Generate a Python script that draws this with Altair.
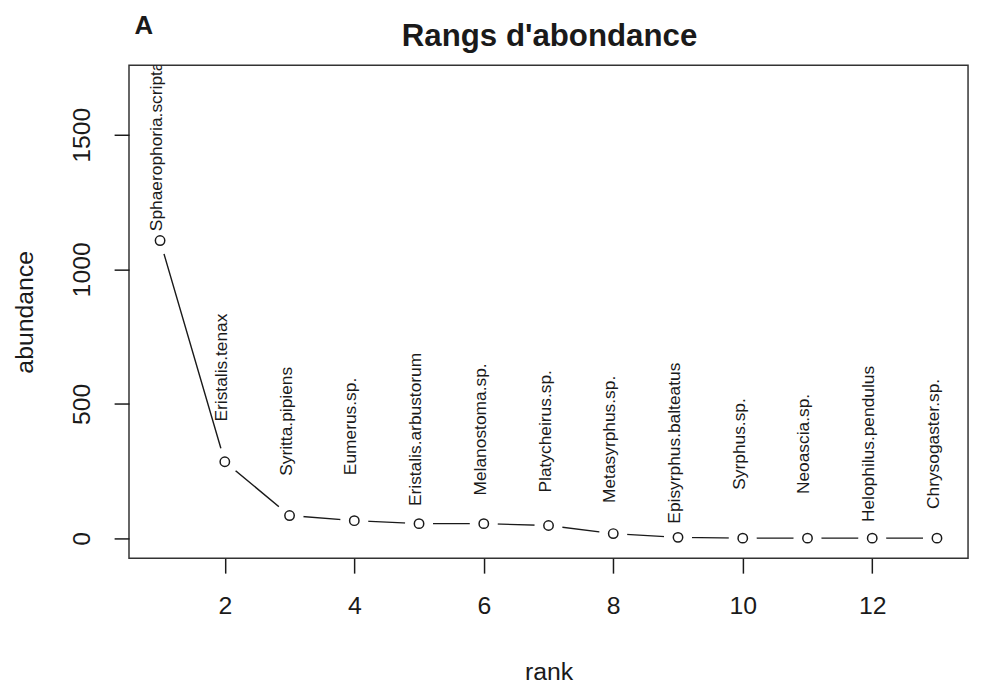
import altair as alt
import pandas as pd

species = ["Sphaerophoria.scripta", "Eristalis.tenax", "Syritta.pipiens", "Eumerus.sp.",
           "Eristalis.arbustorum", "Melanostoma.sp.", "Platycheirus.sp.", "Metasyrphus.sp.",
           "Episyrphus.balteatus", "Syrphus.sp.", "Neoascia.sp.", "Helophilus.pendulus",
           "Chrysogaster.sp."]
ranks = list(range(1, 14))
abundance = [1107, 285, 85, 66, 55, 55, 48, 18, 4, 1, 1, 1, 1]
x_ticks = [2, 4, 6, 8, 10, 12]
y_ticks = [0, 500, 1000, 1500]

df = pd.DataFrame({"rank": ranks, "abundance": abundance, "species": species})

FONT = "Liberation Sans"
INK = "#1a1a1a"

xs = alt.Scale(domain=[0.52, 13.48], nice=False, zero=False)
ys = alt.Scale(domain=[-73.7, 1758], nice=False, zero=False)

x_axis = alt.Axis(values=x_ticks, format="d", title="rank", domain=False, grid=False,
                  tickSize=15, tickWidth=1.5, tickColor=INK,
                  labelFont=FONT, labelFontSize=25, labelColor=INK, labelPadding=21,
                  labelBaseline="top", labelAlign="center", labelFlush=False,
                  titleFont=FONT, titleFontSize=25, titleFontWeight="normal", titleColor=INK,
                  titleX=423, titleY=122, titleBaseline="alphabetic", titleAlign="center")
y_axis = alt.Axis(values=y_ticks, format="d", title="abundance", domain=False, grid=False,
                  tickSize=15, tickWidth=1.5, tickColor=INK,
                  labelFont=FONT, labelFontSize=25, labelColor=INK, labelPadding=20,
                  labelAngle=-90, labelAlign="center", labelBaseline="bottom", labelFlush=False,
                  titleFont=FONT, titleFontSize=25, titleFontWeight="normal", titleColor=INK,
                  titleAngle=270, titleX=-105.5, titleY=248.5, titleBaseline="middle",
                  titleAlign="center")

base = alt.Chart(df)

line = base.mark_line(color=INK, strokeWidth=1.4).encode(
    x=alt.X("rank:Q", scale=xs, axis=x_axis),
    y=alt.Y("abundance:Q", scale=ys, axis=y_axis),
)
mask = base.mark_point(shape="circle", filled=True, color="white", opacity=1, size=800).encode(
    x=alt.X("rank:Q", scale=xs), y=alt.Y("abundance:Q", scale=ys)
)
points = base.mark_point(shape="circle", filled=False, color=INK, strokeWidth=1.5,
                         size=90, opacity=1).encode(
    x=alt.X("rank:Q", scale=xs), y=alt.Y("abundance:Q", scale=ys)
)
labels = base.transform_calculate(ly="datum.abundance + 350").mark_text(
    font=FONT, fontSize=17.5, color=INK, angle=270, align="center", baseline="middle",
    dy=-3, clip=True
).encode(
    x=alt.X("rank:Q", scale=xs), y=alt.Y("ly:Q", scale=ys), text="species:N"
)

title = alt.Chart(pd.DataFrame({"t": ["Rangs d'abondance"]})).mark_text(
    font=FONT, fontSize=31.5, fontWeight="bold", color=INK, align="center", baseline="alphabetic"
).encode(x=alt.value(424), y=alt.value(-20), text="t:N")

panel = alt.Chart(pd.DataFrame({"t": ["A"]})).mark_text(
    font=FONT, fontSize=26, fontWeight="bold", color=INK, align="center", baseline="alphabetic"
).encode(x=alt.value(15), y=alt.value(-32), text="t:N")

chart = alt.layer(line, mask, points, labels, title, panel).properties(
    width=846, height=497,
    autosize=alt.AutoSizeParams(type="none"),
    padding={"left": 122, "top": 55, "right": 5, "bottom": 129},
    background="white",
).configure_view(stroke="#333333", strokeWidth=1.5)

chart.save("out.html", embed_options={"renderer": "svg", "actions": False})
